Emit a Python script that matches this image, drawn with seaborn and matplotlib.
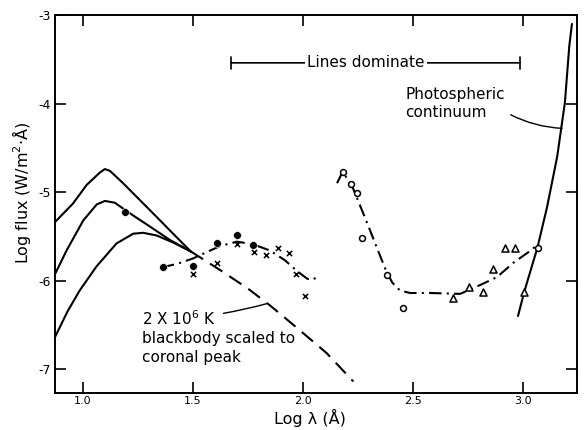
import numpy as np
import pandas as pd
import seaborn as sns
import matplotlib.pyplot as plt

# --- values (log lambda in A, log flux) ---
# three coronal model curves (left)
top_x = [0.873, 0.955, 1.017, 1.077, 1.100, 1.123, 1.183, 1.259, 1.335, 1.410, 1.490]
top_y = [-5.34, -5.13, -4.92, -4.78, -4.74, -4.76, -4.90, -5.09, -5.28, -5.47, -5.67]
mid_x = [0.873, 0.926, 1.002, 1.063, 1.100, 1.145, 1.214, 1.305, 1.395, 1.490]
mid_y = [-5.93, -5.66, -5.32, -5.14, -5.10, -5.12, -5.24, -5.39, -5.54, -5.67]
low_x = [0.873, 0.930, 0.986, 1.062, 1.153, 1.229, 1.274, 1.335, 1.410, 1.490]
low_y = [-6.64, -6.35, -6.11, -5.84, -5.58, -5.47, -5.46, -5.49, -5.57, -5.67]

# 2e6 K blackbody (dashed)
bb_x = [1.490, 1.623, 1.750, 1.850, 1.971, 2.108, 2.229]
bb_y = [-5.67, -5.88, -6.09, -6.28, -6.53, -6.82, -7.14]

# dash-dot fit through coronal-line data
fit1_x = [1.359, 1.430, 1.500, 1.623, 1.700, 1.773, 1.850, 1.918, 1.977, 2.020, 2.045, 2.068]
fit1_y = [-5.85, -5.81, -5.75, -5.61, -5.56, -5.59, -5.66, -5.77, -5.90, -5.98, -5.99, -5.95]

# dash-dot fit through EUV / UV data
fit2_x = [2.155, 2.180, 2.223, 2.259, 2.295, 2.336, 2.373, 2.405, 2.440, 2.486,
          2.577, 2.714, 2.805, 2.882, 2.955, 3.018, 3.064]
fit2_y = [-4.90, -4.77, -4.93, -5.15, -5.37, -5.63, -5.86, -6.02, -6.11, -6.14,
          -6.14, -6.15, -6.05, -5.96, -5.80, -5.69, -5.60]

# photospheric continuum
phot_x = [2.977, 3.005, 3.065, 3.109, 3.155, 3.190, 3.210, 3.222]
phot_y = [-6.40, -6.13, -5.63, -5.17, -4.60, -3.99, -3.35, -3.10]

# observations
dot_x = [1.19, 1.365, 1.50, 1.61, 1.70, 1.775]
dot_y = [-5.23, -5.85, -5.84, -5.58, -5.48, -5.60]
cross_x = [1.50, 1.61, 1.70, 1.777, 1.83, 1.887, 1.935, 1.97, 2.01]
cross_y = [-5.93, -5.80, -5.59, -5.68, -5.71, -5.63, -5.69, -5.92, -6.17]
ring_x = [2.18, 2.22, 2.245, 2.27, 2.38, 2.455, 3.068]
ring_y = [-4.77, -4.91, -5.01, -5.52, -5.94, -6.31, -5.63]
tri_x = [2.68, 2.755, 2.82, 2.864, 2.92, 2.964, 3.005]
tri_y = [-6.20, -6.07, -6.13, -5.87, -5.63, -5.63, -6.13]

xticks = [1.0, 1.5, 2.0, 2.5, 3.0]
yticks = [-7, -6, -5, -4, -3]

sns.set_style("ticks")
plt.rcParams["font.family"] = ["DejaVu Sans"]
plt.rcParams["axes.unicode_minus"] = False
plt.rcParams["text.color"] = "black"
plt.rcParams["axes.labelcolor"] = "black"
plt.rcParams["xtick.color"] = "black"
plt.rcParams["ytick.color"] = "black"

fig = plt.figure(figsize=(5.84, 4.30), dpi=100)
ax = fig.add_axes([0.094, 0.086, 0.894, 0.879])

lw = 1.5
for xs, ys in [(top_x, top_y), (mid_x, mid_y), (low_x, low_y), (phot_x, phot_y)]:
    sns.lineplot(x=xs, y=ys, sort=False, color="black", lw=lw, ax=ax)

sns.lineplot(x=bb_x, y=bb_y, sort=False, color="black", lw=lw, ax=ax,
             linestyle=(0, (7, 4)))
for xs, ys in [(fit1_x, fit1_y), (fit2_x, fit2_y)]:
    sns.lineplot(x=xs, y=ys, sort=False, color="black", lw=lw, ax=ax,
                 linestyle=(0, (6, 2.5, 1, 2.5)))

sns.scatterplot(x=dot_x, y=dot_y, marker="o", s=32, color="black", ax=ax, zorder=5)
sns.scatterplot(x=cross_x, y=cross_y, marker="x", s=14, color="black",
                linewidth=1.1, ax=ax, zorder=5)
sns.scatterplot(x=ring_x, y=ring_y, marker="o", s=18, facecolor="white",
                edgecolor="black", linewidth=1.1, ax=ax, zorder=5)
sns.scatterplot(x=tri_x, y=tri_y, marker="^", s=26, facecolor="white",
                edgecolor="black", linewidth=1.1, ax=ax, zorder=5)

# "Lines dominate" bracket
ax.annotate("", xy=(1.673, -3.54), xytext=(2.986, -3.54),
            arrowprops=dict(arrowstyle="|-|,widthA=0.45,widthB=0.45",
                            color="black", lw=1.2, shrinkA=0, shrinkB=0))
ax.text(2.285, -3.54, "Lines dominate", ha="center", va="center", fontsize=11,
        bbox=dict(facecolor="white", edgecolor="none", pad=1.5))

ax.annotate("Photospheric\ncontinuum", xy=(3.177, -4.28), xytext=(2.465, -4.0),
            ha="left", va="center", fontsize=11, linespacing=1.2,
            arrowprops=dict(arrowstyle="-", color="black", lw=1.0,
                            connectionstyle="arc3,rad=0.12", shrinkA=2, shrinkB=0,
                            relpos=(1.0, 0.25)))

ax.annotate("2 X 10$^6$ K", xy=(1.836, -6.26), xytext=(1.27, -6.43),
            ha="left", va="center", fontsize=11,
            arrowprops=dict(arrowstyle="-", color="black", lw=1.0,
                            connectionstyle="arc3,rad=0.05", shrinkA=3, shrinkB=0))
ax.text(1.27, -6.57, "blackbody scaled to\ncoronal peak", ha="left", va="top",
        fontsize=11, linespacing=1.3)

ax.set_xlim(0.873, 3.245)
ax.set_ylim(-7.27, -3.0)
ax.set_xticks(xticks)
ax.set_xticklabels([f"{t:.1f}" for t in xticks], fontsize=8)
ax.set_yticks(yticks)
ax.set_yticklabels([str(t) for t in yticks], fontsize=9)
ax.tick_params(direction="in", length=8, width=1.2, top=True, right=True)
ax.tick_params(axis="x", pad=2)
ax.tick_params(axis="y", pad=3)
for sp in ax.spines.values():
    sp.set_linewidth(1.4)
    sp.set_color("black")

ax.set_xlabel("Log λ (Å)", fontsize=11.5)
ax.set_ylabel("Log flux (W/m$^2$·Å)", fontsize=11.5)
ax.xaxis.set_label_coords(0.488, -0.042)
ax.yaxis.set_label_coords(-0.042, 0.53)

fig.savefig("out.png", dpi=100)
